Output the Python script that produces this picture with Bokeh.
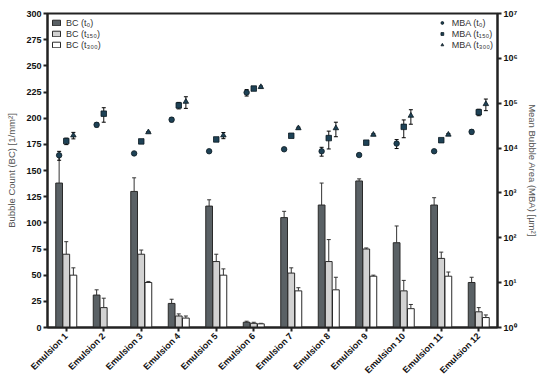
import math
import numpy as np
from bokeh.plotting import figure
from bokeh.models import (ColumnDataSource, FactorRange, Range1d, LogAxis, LogScale,
                          Legend, LegendItem, Whisker, FixedTicker)
from bokeh.transform import dodge
from bokeh.embed import file_html
from bokeh.resources import INLINE

categories = [f"Emulsion {i}" for i in range(1, 13)]

bc_t0 = [138, 31, 130, 23, 116, 5, 105, 117, 140, 81, 117, 43]
bc_t0_err = [27, 5, 13, 4, 6, 1, 6, 21, 2, 16, 7, 5]
bc_t150 = [70, 19, 70, 11, 63, 4, 52, 63, 75, 35, 66, 15]
bc_t150_err = [12, 9, 4, 2, 7, 1, 5, 21, 1, 10, 6, 4]
bc_t300 = [50, np.nan, 43, 9, 50, 3.5, 35, 36, 49, 18, 49, 9.5]
bc_t300_err = [7, np.nan, 1, 2, 6, 0.5, 3, 12, 1, 4, 4, 2.5]

mba_t0 = [6900, 33000, 7600, 43000, 8500, 173000, 9400, 8500, 7000, 12600, 8500, 23000]
mba_t0_err = [1550, 3500, 380, 4600, 260, 28500, 280, 1900, 210, 2840, 260, 2470]
mba_t150 = [14300, 58500, 14100, 89500, 15600, 212000, 18800, 16700, 13200, 29700, 15000, 63000]
mba_t150_err = [2360, 20800, 700, 14800, 780, 10600, 940, 7150, 660, 12700, 750, 10400]
mba_t300 = [19200, np.nan, 22600, 108000, 19200, 230000, 27800, 27800, 19900, 52800, 20000, 96000]
mba_t300_err = [3170, np.nan, 700, 31300, 3000, 11500, 1390, 9900, 1000, 18800, 1000, 27800]

left_ticks = [0, 25, 50, 75, 100, 125, 150, 175, 200, 225, 250, 275, 300]
right_ticks = [1, 10, 100, 1000, 10000, 100000, 1000000, 10000000]
right_tick_labels = ["10⁰", "10¹", "10²", "10³", "10⁴", "10⁵", "10⁶", "10⁷"]

FONT = "Liberation Sans"

def arr(a):
    return np.array(a, dtype=float)

src = ColumnDataSource(dict(
    cat=categories,
    b0=arr(bc_t0), b0u=arr(bc_t0) + arr(bc_t0_err),
    b1=arr(bc_t150), b1u=arr(bc_t150) + arr(bc_t150_err),
    b2=arr(bc_t300), b2u=arr(bc_t300) + arr(bc_t300_err),
    m0=arr(mba_t0), m0l=arr(mba_t0) - arr(mba_t0_err), m0u=arr(mba_t0) + arr(mba_t0_err),
    m1=arr(mba_t150), m1l=arr(mba_t150) - arr(mba_t150_err), m1u=arr(mba_t150) + arr(mba_t150_err),
    m2=arr(mba_t300), m2l=arr(mba_t300) - arr(mba_t300_err), m2u=arr(mba_t300) + arr(mba_t300_err),
))

p = figure(x_range=FactorRange(*categories, range_padding=0.0), y_range=Range1d(0, 300),
           width=548, height=382, output_backend="svg", toolbar_location=None,
           min_border_left=47, min_border_right=51, min_border_top=13, min_border_bottom=52)
p.extra_y_ranges = {"mba": Range1d(1, 1e7)}
p.extra_y_scales = {"mba": LogScale()}

p.xgrid.visible = False
p.ygrid.visible = False
p.outline_line_color = "#222222"
p.outline_line_width = 2
p.background_fill_color = "white"
p.border_fill_color = "white"

off = [-0.19, 0.0, 0.19]
bw = 0.18
fills = ["#5a6165", "#d2d2d2", "#ffffff"]
bar_keys = [("b0", "b0u"), ("b1", "b1u"), ("b2", "b2u")]
bar_r = []
for (k, ku), o, f in zip(bar_keys, off, fills):
    x = dodge("cat", o, range=p.x_range)
    r = p.vbar(x=x, top=k, width=bw, source=src, fill_color=f, line_color="#2a2a2a", line_width=1)
    bar_r.append(r)
    w = Whisker(base=x, lower=k, upper=ku, source=src, dimension="height",
                line_color="#333333", line_width=1)
    w.lower_head = None
    w.upper_head.size = 4
    w.upper_head.line_color = "#333333"
    p.add_layout(w)

mk_keys = [("m0", "m0l", "m0u"), ("m1", "m1l", "m1u"), ("m2", "m2l", "m2u")]
markers = ["circle", "square", "triangle"]
mk_r = []
for (k, kl, ku), o, m in zip(mk_keys, off, markers):
    x = dodge("cat", o, range=p.x_range)
    w = Whisker(base=x, lower=kl, upper=ku, source=src, dimension="height", y_range_name="mba",
                line_color="#111111", line_width=1)
    w.lower_head.size = 4
    w.upper_head.size = 4
    p.add_layout(w)
    r = p.scatter(x=x, y=k, source=src, marker=m, size=5.5, y_range_name="mba",
                  fill_color="#1e4256", line_color="#0d1a22", line_width=0.8)
    mk_r.append(r)

ya = p.yaxis[0]
ya.ticker = FixedTicker(ticks=left_ticks)
ya.axis_label = "Bubble Count (BC) [1/mm²]"

right = LogAxis(y_range_name="mba", axis_label="Mean Bubble Area (MBA) [µm²]")
right.ticker = FixedTicker(ticks=right_ticks)
right.major_label_overrides = {t: l for t, l in zip(right_ticks, right_tick_labels)}
p.add_layout(right, "right")

for ax in [ya, right]:
    ax.axis_line_width = 2
    ax.axis_line_color = "#222222"
    ax.major_tick_line_width = 2
    ax.major_tick_line_color = "#222222"
    ax.major_tick_out = 4
    ax.major_tick_in = 0
    ax.minor_tick_line_color = None
    ax.major_label_text_font = FONT
    ax.major_label_text_font_style = "bold"
    ax.major_label_text_font_size = "9px"
    ax.major_label_text_color = "#111111"
    ax.axis_label_text_font = FONT
    ax.axis_label_text_font_style = "normal"
    ax.axis_label_text_font_size = "9.5px"
    ax.axis_label_text_color = "#555555"
    ax.axis_label_standoff = 6
    ax.major_label_standoff = 2

xa = p.xaxis[0]
xa.axis_line_width = 2
xa.axis_line_color = "#222222"
xa.major_tick_line_width = 2
xa.major_tick_line_color = "#222222"
xa.major_tick_out = 4
xa.major_tick_in = 0
xa.minor_tick_line_color = None
xa.major_label_orientation = math.pi / 4
xa.major_label_text_font = FONT
xa.major_label_text_font_style = "bold"
xa.major_label_text_font_size = "9px"
xa.major_label_text_color = "#111111"
xa.major_label_standoff = 3

leg1 = Legend(items=[LegendItem(label="BC (t₀)", renderers=[bar_r[0]]),
                     LegendItem(label="BC (t₁₅₀)", renderers=[bar_r[1]]),
                     LegendItem(label="BC (t₃₀₀)", renderers=[bar_r[2]])],
              location="top_left")
leg2 = Legend(items=[LegendItem(label="MBA (t₀)", renderers=[mk_r[0]]),
                     LegendItem(label="MBA (t₁₅₀)", renderers=[mk_r[1]]),
                     LegendItem(label="MBA (t₃₀₀)", renderers=[mk_r[2]])],
              location="top_right")
for lg in (leg1, leg2):
    lg.background_fill_alpha = 0
    lg.border_line_color = None
    lg.label_text_font = FONT
    lg.label_text_font_size = "9px"
    lg.label_text_color = "#333333"
    lg.glyph_width = 10
    lg.glyph_height = 7
    lg.label_height = 11
    lg.spacing = 0
    lg.padding = 2
    lg.margin = 4
    lg.label_standoff = 5
    p.add_layout(lg)

open("out.html", "w").write(file_html(p, INLINE))
